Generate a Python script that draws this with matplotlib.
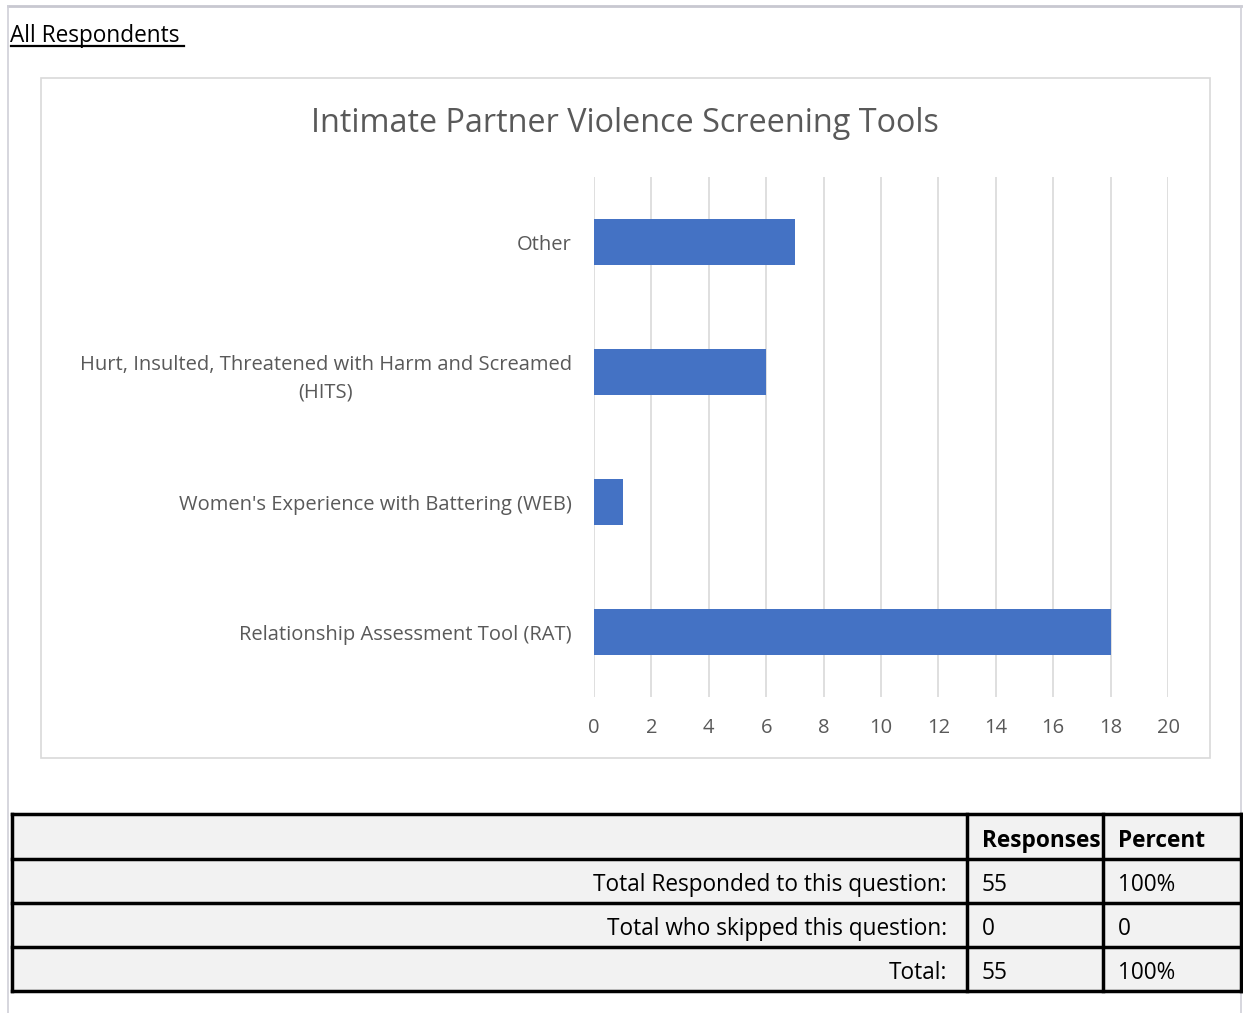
import matplotlib.pyplot as plt
from matplotlib.patches import Rectangle
from matplotlib.lines import Line2D

categories = ["Relationship Assessment Tool (RAT)",
              "Women's Experience with Battering (WEB)",
              "Hurt, Insulted, Threatened with Harm and Screamed\n(HITS)",
              "Other"]
counts = [18, 1, 6, 7]

table_header = ["", "Responses", "Percent"]
table_rows = [["Total Responded to this question:", "55", "100%"],
              ["Total who skipped this question:", "0", "0"],
              ["Total:", "55", "100%"]]

W, H = 1243, 1013
fig = plt.figure(figsize=(W / 100, H / 100), dpi=100)
plt.rcParams['font.family'] = ['Open Sans', 'DejaVu Sans']

def fx(x):
    return x / W

def fy(y):
    return 1 - y / H

# page border (light)
fig.add_artist(Line2D([fx(8), fx(1241)], [fy(6), fy(6)], color='#c8c8d0', lw=2))
fig.add_artist(Line2D([fx(8), fx(8)], [fy(6), fy(1013)], color='#d0d0d8', lw=1.2))
fig.add_artist(Line2D([fx(1241), fx(1241)], [fy(6), fy(1013)], color='#d0d0d8', lw=1.2))

# heading
fig.text(fx(10), fy(36), "All Respondents", fontsize=16.3, va='center', ha='left', color='black')
fig.add_artist(Line2D([fx(11), fx(184)], [fy(46), fy(46)], color='black', lw=1.6))

# chart box
fig.add_artist(Rectangle((fx(41), fy(758)), fx(1210 - 41), (758 - 78) / H,
                         fill=False, edgecolor='#d9d9d9', lw=1.2))
fig.text(fx(625), fy(124), "Intimate Partner Violence Screening Tools", fontsize=23.3,
         ha='center', va='center', color='#595959')

ax = fig.add_axes([fx(594), fy(697), fx(1168 - 594), (697 - 177) / H])
ypos = range(len(categories))
ax.barh(ypos, counts, height=0.354, color='#4472c4', zorder=3)
ax.set_xlim(0, 20)
ax.set_ylim(-0.5, len(categories) - 0.5)
ax.set_xticks(range(0, 21, 2))
ax.set_yticks(list(ypos))
ax.set_yticklabels(categories, fontsize=14.5, color='#595959', linespacing=1.5)
for lbl in ax.get_yticklabels():
    lbl.set_multialignment('center')
ax.tick_params(axis='x', colors='#595959', labelsize=14.5, length=0, pad=15)
ax.tick_params(axis='y', length=0, pad=16)
ax.grid(axis='x', color='#d9d9d9', lw=1.2, zorder=0)
for s in ax.spines.values():
    s.set_visible(False)

# table
col_x = [12, 967, 1103, 1241]
row_y = [814, 859, 903, 947, 991]
fig.add_artist(Rectangle((fx(12), fy(991)), fx(1241 - 12), (991 - 814) / H,
                         facecolor='#f2f2f2', edgecolor='none'))
for y in row_y:
    fig.add_artist(Line2D([fx(12), fx(1241)], [fy(y), fy(y)], color='black', lw=2.5))
for x in col_x:
    fig.add_artist(Line2D([fx(x), fx(x)], [fy(814), fy(991)], color='black', lw=2.5))

rows = [table_header] + table_rows
for i, row in enumerate(rows):
    yc = (row_y[i] + row_y[i + 1]) / 2 + 4
    weight = 'bold' if i == 0 else 'normal'
    fig.text(fx(947), fy(yc), row[0], fontsize=16.3, ha='right', va='center', weight=weight)
    fig.text(fx(982), fy(yc), row[1], fontsize=16.3, ha='left', va='center', weight=weight)
    fig.text(fx(1118), fy(yc), row[2], fontsize=16.3, ha='left', va='center', weight=weight)

fig.savefig('out.png', dpi=100)
